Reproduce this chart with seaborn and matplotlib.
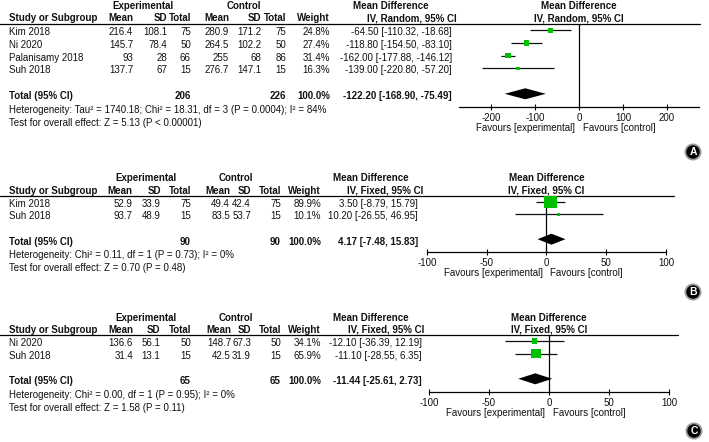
import matplotlib.pyplot as plt
import seaborn as sns
import pandas as pd

sns.set_theme(style="white")
plt.rcParams["font.family"] = ["Liberation Sans", "DejaVu Sans"]
plt.rcParams["axes.unicode_minus"] = False

# ---- Panel A (random effects) ----
studies_a = ["Kim 2018", "Ni 2020", "Palanisamy 2018", "Suh 2018"]
exp_mean_a = [216.4, 145.7, 93, 137.7]
exp_sd_a = [108.1, 78.4, 28, 67]
exp_n_a = [75, 50, 66, 15]
ctl_mean_a = [280.9, 264.5, 255, 276.7]
ctl_sd_a = [171.2, 102.2, 68, 147.1]
ctl_n_a = [75, 50, 86, 15]
weight_a = [24.8, 27.4, 31.4, 16.3]
md_a = [-64.50, -118.80, -162.00, -139.00]
lo_a = [-110.32, -154.50, -177.88, -220.80]
hi_a = [-18.68, -83.10, -146.12, -57.20]
total_a = [-122.20, -168.90, -75.49]
total_n_a = [206, 226]
ticks_a = [-200, -100, 0, 100, 200]
het_a = "Heterogeneity: Tau² = 1740.18; Chi² = 18.31, df = 3 (P = 0.0004); I² = 84%"
test_a = "Test for overall effect: Z = 5.13 (P < 0.00001)"

# ---- Panel B (fixed effect) ----
studies_b = ["Kim 2018", "Suh 2018"]
exp_mean_b = [52.9, 93.7]
exp_sd_b = [33.9, 48.9]
exp_n_b = [75, 15]
ctl_mean_b = [49.4, 83.5]
ctl_sd_b = [42.4, 53.7]
ctl_n_b = [75, 15]
weight_b = [89.9, 10.1]
md_b = [3.50, 10.20]
lo_b = [-8.79, -26.55]
hi_b = [15.79, 46.95]
total_b = [4.17, -7.48, 15.83]
total_n_b = [90, 90]
ticks_b = [-100, -50, 0, 50, 100]
het_b = "Heterogeneity: Chi² = 0.11, df = 1 (P = 0.73); I² = 0%"
test_b = "Test for overall effect: Z = 0.70 (P = 0.48)"

# ---- Panel C (fixed effect) ----
studies_c = ["Ni 2020", "Suh 2018"]
exp_mean_c = [136.6, 31.4]
exp_sd_c = [56.1, 13.1]
exp_n_c = [50, 15]
ctl_mean_c = [148.7, 42.5]
ctl_sd_c = [67.3, 31.9]
ctl_n_c = [50, 15]
weight_c = [34.1, 65.9]
md_c = [-12.10, -11.10]
lo_c = [-36.39, -28.55]
hi_c = [12.19, 6.35]
total_c = [-11.44, -25.61, 2.73]
total_n_c = [65, 65]
ticks_c = [-100, -50, 0, 50, 100]
het_c = "Heterogeneity: Chi² = 0.00, df = 1 (P = 0.95); I² = 0%"
test_c = "Test for overall effect: Z = 1.58 (P = 0.11)"

panels = [
    dict(label="A", model="Random", studies=studies_a, em=exp_mean_a, esd=exp_sd_a, en=exp_n_a,
         cm=ctl_mean_a, csd=ctl_sd_a, cn=ctl_n_a, w=weight_a, md=md_a, lo=lo_a, hi=hi_a,
         tot=total_a, totn=total_n_a, ticks=ticks_a, het=het_a, test=test_a),
    dict(label="B", model="Fixed", studies=studies_b, em=exp_mean_b, esd=exp_sd_b, en=exp_n_b,
         cm=ctl_mean_b, csd=ctl_sd_b, cn=ctl_n_b, w=weight_b, md=md_b, lo=lo_b, hi=hi_b,
         tot=total_b, totn=total_n_b, ticks=ticks_b, het=het_b, test=test_b),
    dict(label="C", model="Fixed", studies=studies_c, em=exp_mean_c, esd=exp_sd_c, en=exp_n_c,
         cm=ctl_mean_c, csd=ctl_sd_c, cn=ctl_n_c, w=weight_c, md=md_c, lo=lo_c, hi=hi_c,
         tot=total_c, totn=total_n_c, ticks=ticks_c, het=het_c, test=test_c),
]

# pixel layout of each panel (figure is 709 x 442 px)
layouts = [
    dict(head1=6, head2=18.3, line=23.5, line_end=700, row0=30.3, dy=12.7, axis=107,
         x0=579, ppu=0.44, xlim=(-272, 272), cols=[133, 167, 191, 229, 261, 286, 330],
         ci_x=452, exp_c=143, ctl_c=244, md1=353, md2=367, circ=(693, 152)),
    dict(head1=178.3, head2=190.7, line=195.5, line_end=674, row0=201.7, dy=12.5, axis=252.3,
         x0=546.5, ppu=1.195, xlim=(-100, 100), cols=[132, 161, 191, 230, 251, 281, 321],
         ci_x=418, exp_c=146, ctl_c=236, md1=333, md2=347, circ=(693, 292)),
    dict(head1=317.7, head2=330, line=334.5, line_end=678, row0=341, dy=12.6, axis=392.3,
         x0=549, ppu=1.2, xlim=(-100, 100), cols=[133, 160, 191, 231, 251, 281, 321],
         ci_x=422, exp_c=146, ctl_c=236, md1=333, md2=348, circ=(694, 431)),
]

W, H = 709, 442
FS = 7.0
fig = plt.figure(figsize=(W / 100, H / 100), dpi=100)
bg = fig.add_axes([0, 0, 1, 1])
bg.set_xlim(0, W)
bg.set_ylim(H, 0)
bg.axis("off")


def num(v):
    return f"{v:g}"


def ci_text(m, l, h):
    return f"{m:.2f} [{l:.2f}, {h:.2f}]"


def txt(x, y, s, ha="left", bold=False):
    bg.text(x, y, s, ha=ha, va="center", fontsize=FS, color="#111111",
            fontweight="bold" if bold else "normal")


for p, lay in zip(panels, layouts):
    c = lay["cols"]
    n = len(p["studies"])
    row_px = lambda r: lay["row0"] + r * lay["dy"] + 2

    # header
    txt(lay["exp_c"], lay["head1"], "Experimental", "center", True)
    txt(lay["ctl_c"], lay["head1"], "Control", "center", True)
    txt(lay["md1"], lay["head1"], "Mean Difference", bold=True)
    txt(lay["x0"], lay["head1"], "Mean Difference", "center", True)
    txt(9, lay["head2"], "Study or Subgroup", bold=True)
    for x, s in zip(c, ["Mean", "SD", "Total", "Mean", "SD", "Total", "Weight"]):
        txt(x, lay["head2"], s, "right", True)
    model = f"IV, {p['model']}, 95% CI"
    txt(lay["md2"], lay["head2"], model, bold=True)
    txt(lay["x0"], lay["head2"], model, "center", True)
    bg.plot([0, lay["line_end"]], [lay["line"]] * 2, color="black", lw=0.9)

    # study rows
    for i in range(n):
        y = row_px(i)
        txt(9, y, p["studies"][i])
        vals = [num(p["em"][i]), num(p["esd"][i]), str(p["en"][i]),
                num(p["cm"][i]), num(p["csd"][i]), str(p["cn"][i]), f"{p['w'][i]:.1f}%"]
        for x, s in zip(c, vals):
            txt(x, y, s, "right")
        txt(lay["ci_x"], y, ci_text(p["md"][i], p["lo"][i], p["hi"][i]), "right")

    # total row and footnotes
    yt = row_px(n + 1) + 0.5
    txt(9, yt, "Total (95% CI)", bold=True)
    txt(c[2], yt, str(p["totn"][0]), "right", True)
    txt(c[5], yt, str(p["totn"][1]), "right", True)
    txt(c[6], yt, "100.0%", "right", True)
    txt(lay["ci_x"], yt, ci_text(*p["tot"]), "right", True)
    txt(9, yt + 13.3, p["het"])
    txt(9, yt + 26.6, p["test"])

    # forest axes
    left = lay["x0"] + lay["xlim"][0] * lay["ppu"]
    width = (lay["xlim"][1] - lay["xlim"][0]) * lay["ppu"]
    height = lay["axis"] - lay["line"]
    ax = fig.add_axes([left / W, 1 - lay["axis"] / H, width / W, height / H])
    ax.set_facecolor("none")
    ax.set_xlim(*lay["xlim"])
    ax.set_ylim((lay["axis"] - lay["row0"]) / lay["dy"], (lay["line"] - lay["row0"]) / lay["dy"])

    df = pd.DataFrame({"md": p["md"], "lo": p["lo"], "hi": p["hi"], "w": p["w"],
                       "row": list(range(n))})
    ax.axvline(0, color="black", lw=0.9, zorder=1)
    ax.hlines(df["row"], df["lo"], df["hi"], color="#111111", lw=0.9, zorder=2)
    side_pt = [(1.8 + 0.12 * w) * 0.72 for w in p["w"]]
    sns.scatterplot(data=df, x="md", y="row", marker="s", color="#00c000",
                    s=[sp ** 2 for sp in side_pt], linewidth=0, zorder=3, ax=ax, legend=False)

    m, l, h = p["tot"]
    hh = 5.5 / lay["dy"]
    ax.fill([l, m, h, m], [n + 1, n + 1 - hh, n + 1, n + 1 + hh], color="black", lw=0, zorder=3)

    for side in ["left", "right", "top"]:
        ax.spines[side].set_visible(False)
    ax.spines["bottom"].set_color("black")
    ax.spines["bottom"].set_linewidth(0.9)
    ax.set_xticks(p["ticks"])
    ax.set_xticklabels([str(t) for t in p["ticks"]])
    ax.set_yticks([])
    ax.tick_params(axis="x", direction="inout", length=5, width=0.8, color="black",
                   labelsize=FS, labelcolor="#111111", pad=1.5, bottom=True)
    ax.set_xlabel("")
    ax.set_ylabel("")
    ax.grid(False)

    txt(lay["x0"] - 4, lay["axis"] + 21, "Favours [experimental]", "right")
    txt(lay["x0"] + 4, lay["axis"] + 21, "Favours [control]")

    cx, cy = lay["circ"]
    bg.text(cx, cy, p["label"], ha="center", va="center", fontsize=7.5, color="white",
            fontweight="bold",
            bbox=dict(boxstyle="circle,pad=0.25", fc="black", ec="#9a9a9a", lw=1.3))

fig.savefig("out.png", dpi=100)
